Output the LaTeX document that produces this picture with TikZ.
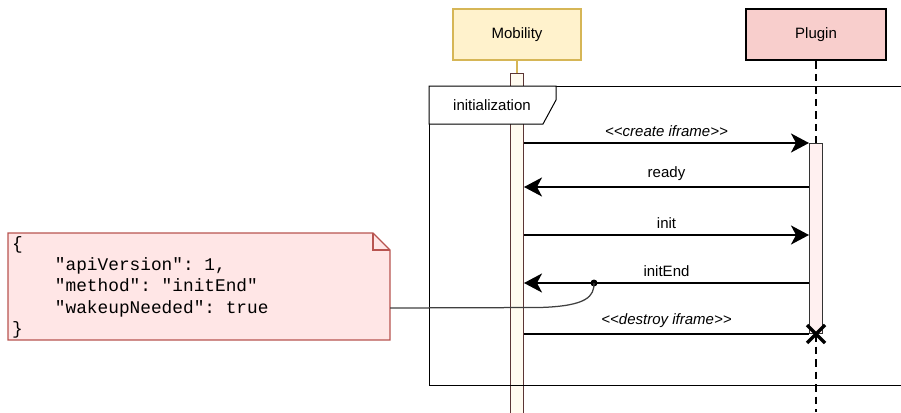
\documentclass[tikz,border=0pt]{standalone}
\usepackage{fontspec}
\setmainfont{Liberation Sans}
\setmonofont{Liberation Mono}
\usetikzlibrary{arrows.meta,positioning}

\definecolor{mobfill}{HTML}{FFF2CC}
\definecolor{mobline}{HTML}{D6B656}
\definecolor{plgfill}{HTML}{F8CECC}
\definecolor{mobbar}{HTML}{FFFBF0}
\definecolor{plgbar}{HTML}{FFF0F0}
\definecolor{barline}{HTML}{5B3535}
\definecolor{notefill}{HTML}{FFE6E6}
\definecolor{noteline}{HTML}{B85450}

% stereotype label, kern keeps << from turning into a guillemet
\newcommand{\stereo}[1]{\textit{<\kern0pt<#1>\kern0pt>}}

\begin{document}
\begin{tikzpicture}[x=1pt, y=-1pt,
   font=\fontsize{15}{18}\selectfont,
   actor/.style={draw, line width=2pt, minimum width=128pt, minimum height=51pt, inner sep=0pt},
   actbar/.style={draw, line width=1pt, minimum width=13pt, inner sep=0pt, anchor=north},
   lifeline/.style={line width=2.5pt, dash pattern=on 7.5pt off 5pt},
   msg/.style={line width=2pt, -{Stealth[length=18pt, width=19pt, inset=5pt]}},
   lbl/.style={midway, above=2pt}
   ]
   \useasboundingbox (0,0) rectangle (901,412);

   % participants
   \node [actor, fill=mobfill, draw=mobline] (mob) at (517,34.5) {Mobility};
   \node [actor, fill=plgfill, line width=2.5pt, minimum width=140pt] (plg) at (816,34.5) {Plugin};

   % activation bars
   \node [actbar, fill=mobbar, draw=barline, minimum height=345pt] (mobact) at (517,73) {};
   \node [actbar, fill=plgbar, draw=black!80, minimum height=190pt] (plgact) at (816,143) {};
   \coordinate (plgend) at (816,412);

   % lifelines
   \draw [mobline, line width=2pt] (mob.south) -- (mobact.north);
   \draw [lifeline] (plg.south) -- (plgact.north);
   \draw [lifeline] (plgact.south) -- (plgend);

   % frame
   \draw [line width=1pt] (429,86) rectangle (915,385);
   \draw [line width=1pt, fill=white] (429,86) -- (556,86) -- (556,100) -- (543,124) -- (429,124) -- cycle;
   \node (frame) at (492,105) {initialization};

   % messages
   \draw [msg] (mobact.east |- plgact.north) -- node[lbl]{\stereo{create iframe}} (plgact.north west);
   \draw [msg] (plgact.west |- 0,187) -- node[lbl]{ready} (mobact.east |- 0,187);
   \draw [msg] (mobact.east |- 0,235) -- node[lbl]{init} (plgact.west |- 0,235);
   \draw [msg] (plgact.west |- 0,283) -- node[lbl]{initEnd} (mobact.east |- 0,283);
   \draw [line width=2pt] (mobact.east |- plgact.south) -- node[lbl]{\stereo{destroy iframe}} (plgact.south west);

   % destroy mark
   \coordinate (kill) at (plgact.south);
   \draw [line width=3.5pt] ([shift={(-9,-9)}]kill) -- ([shift={(9,9)}]kill)
                          ([shift={(-9,9)}]kill) -- ([shift={(9,-9)}]kill);

   % payload note
   \filldraw [fill=notefill, draw=noteline, line width=1.25pt]
      (8,233) -- (373,233) -- (390,250) -- (390,340) -- (8,340) -- cycle;
   \draw [noteline, line width=1.25pt] (373,233) -- (373,250) -- (390,250);
   \node [anchor=north west, inner sep=0pt, align=left,
          font=\ttfamily\fontsize{17.8}{21.3}\selectfont] (payload) at (12,236)
      {\{\\
       \phantom{xxxx}"apiVersion": 1,\\
       \phantom{xxxx}"method": "initEnd"\\
       \phantom{xxxx}"wakeupNeeded": true\\
       \}};
   \coordinate (noteport) at (390,308);
   \fill (594,283) circle (3.5pt) coordinate (hook);
   \draw [black!75, line width=1.25pt] (noteport) -- (540,307.5) .. controls (588,306) and (594,296) .. (hook);
\end{tikzpicture}
\end{document}
